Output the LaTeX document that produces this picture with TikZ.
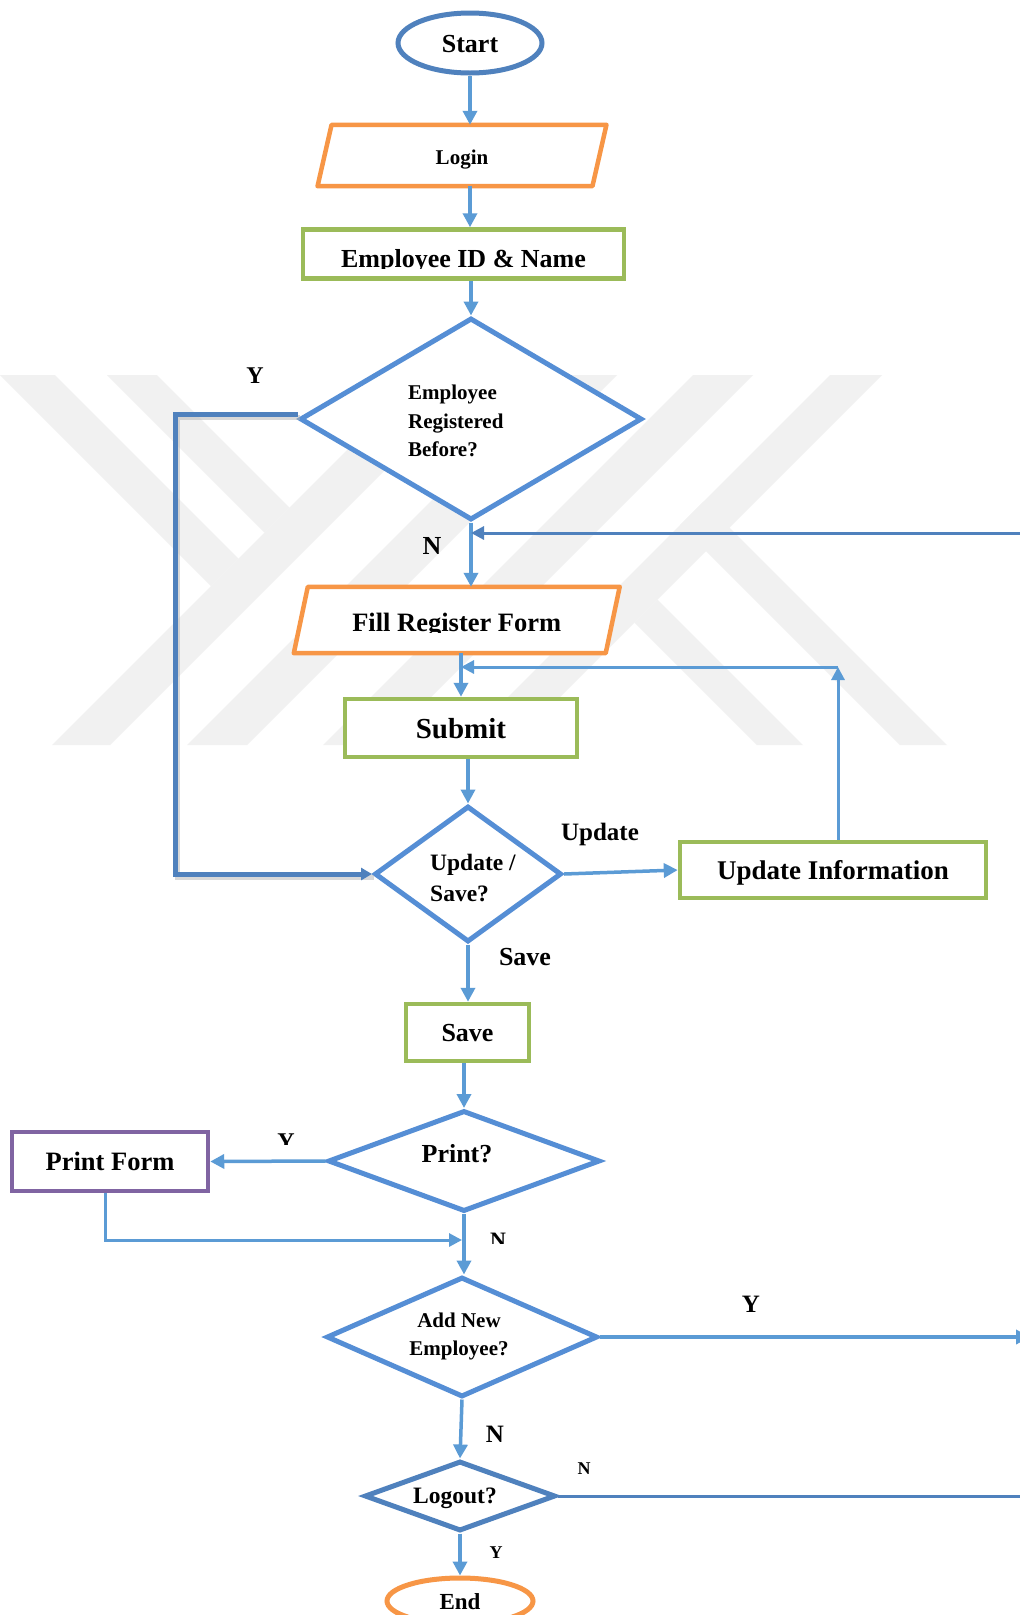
\documentclass[tikz,border=0pt]{standalone}
\usepackage{fontspec}
\setmainfont{Liberation Serif}
\usetikzlibrary{shapes.geometric,arrows.meta}

\definecolor{flowblue}{HTML}{5B9BD5}
\definecolor{decblue}{HTML}{558ED5}
\definecolor{deepblue}{HTML}{4F81BD}
\definecolor{boxorange}{HTML}{F79646}
\definecolor{boxgreen}{HTML}{9BBB59}
\definecolor{boxpurple}{HTML}{8064A2}
\definecolor{wmgray}{HTML}{F1F1F1}

\newcommand{\bsz}[1]{\fontsize{#1}{#1}\selectfont\bfseries}

\tikzset{
  shapebox/.style={rectangle, inner sep=0pt, fill=white, line width=4.5pt, text depth=0pt},
  greenbox/.style={shapebox, draw=boxgreen},
  purplebox/.style={shapebox, draw=boxpurple},
  ioframe/.style={rectangle, inner sep=0pt},
  ioline/.style={draw=boxorange, fill=white, line width=4.5pt, line join=round},
  decision/.style={diamond, inner sep=0pt, fill=white, draw=decblue, line width=5pt},
  terminal/.style={ellipse, inner sep=0pt, fill=white, line width=5pt, text depth=0pt},
  flow/.style={draw=flowblue, line width=3.5pt, -{Triangle[width=14pt,length=14pt]}},
  thinflow/.style={draw=deepblue, line width=3pt, -{Triangle[width=13pt,length=13pt]}},
  backflow/.style={draw=flowblue, line width=3pt, -{Triangle[width=13pt,length=13pt]}},
  tag/.style={inner sep=0pt, anchor=base},
}

\begin{document}
\begin{tikzpicture}[x=1pt,y=-1pt]
\fill[white] (0,0) rectangle (1020,1615);
\useasboundingbox (0,0) rectangle (1020,1615);

% faint striped emblem in the background
\begin{scope}
  \clip (0,375) rectangle (1020,745);
  \fill[wmgray] (422,375) -- (480,375) -- (110,745) -- (52,745) -- cycle;
  \fill[wmgray] (557,375) -- (617,375) -- (247,745) -- (187,745) -- cycle;
  \fill[wmgray] (693,375) -- (753,375) -- (383,745) -- (323,745) -- cycle;
  \fill[wmgray] (830,375) -- (882,375) -- (512,745) -- (460,745) -- cycle;
  \fill[wmgray] (0,375) -- (55,375) -- (238.5,558.5) -- (211,586) -- cycle;
  \fill[wmgray] (107,375) -- (157,375) -- (289.5,507.5) -- (264.5,532.5) -- cycle;
  \fill[wmgray] (634.5,622.5) -- (657.5,599.5) -- (803,745) -- (757,745) -- cycle;
  \fill[wmgray] (680,525) -- (703.5,501.5) -- (947,745) -- (900,745) -- cycle;
\end{scope}

% ---------- nodes ----------
\node[terminal, draw=deepblue, minimum width=144pt, minimum height=60pt, font=\bsz{26}, text height=18.2pt] (start) at (470,43) {Start};

\node[ioframe, minimum width=274.5pt, minimum height=61pt] (login) at (462,155.5) {};
\filldraw[ioline] ([xshift=-7pt]login.south west) -- ([xshift=-7pt]login.south east)
  -- ([xshift=7pt]login.north east) -- ([xshift=7pt]login.north west) -- cycle;
\node[tag, font=\bsz{21}] (logintxt) at (462,164) {Login};

\node[greenbox, minimum width=321pt, minimum height=49pt] (emp) at (463.5,254) {};
\begin{scope}
  \clip (306,232) rectangle (621,268);
  \node[tag, font=\bsz{26}] (emptxt) at (463.5,267) {Employee ID \& Name};
\end{scope}

\node[decision, minimum width=342pt, minimum height=202pt] (reg) at (471,419) {};
\node[font=\fontsize{21}{28.5}\selectfont\bfseries, align=left, anchor=west, inner sep=0pt] (regtxt) at (408,421) {Employee\\Registered\\Before?};

\node[ioframe, minimum width=311.5pt, minimum height=66pt] (regform) at (456.75,620) {};
\filldraw[ioline] ([xshift=-7pt]regform.south west) -- ([xshift=-7pt]regform.south east)
  -- ([xshift=7pt]regform.north east) -- ([xshift=7pt]regform.north west) -- cycle;
\begin{scope}
  \clip (300,590) rectangle (612,632);
  \node[tag, font=\bsz{26.5}] (regformtxt) at (456.75,631) {Fill Register Form};
\end{scope}

\node[greenbox, minimum width=232pt, minimum height=58pt, font=\bsz{29}, text height=20.3pt] (submit) at (461,728) {Submit};

\node[decision, minimum width=187pt, minimum height=136pt] (choice) at (468,874) {};
\node[font=\fontsize{23.5}{32}\selectfont\bfseries, align=left, anchor=west, inner sep=0pt] (choicetxt) at (430,878) {Update /\\Save?};

\node[greenbox, minimum width=306pt, minimum height=56pt, font=\bsz{27}, text height=18.9pt] (updinfo) at (833,870) {Update Information};

\node[greenbox, minimum width=123pt, minimum height=57pt, font=\bsz{26}, text height=18.2pt] (savebox) at (467.5,1032.5) {Save};

\node[decision, minimum width=272pt, minimum height=101pt] (print) at (464,1161) {};
\node[tag, font=\bsz{26}] (printtxt) at (457,1162) {Print?};

\node[purplebox, minimum width=196pt, minimum height=59pt, font=\bsz{26.5}, text height=18.5pt] (pform) at (110,1161.5) {Print Form};

\node[decision, minimum width=271pt, minimum height=120pt] (addnew) at (462,1337) {};
\node[font=\fontsize{21}{28}\selectfont\bfseries, align=center, inner sep=0pt] (addtxt) at (459,1336) {Add New\\Employee?};

\node[decision, draw=deepblue, minimum width=191pt, minimum height=70pt] (logout) at (460,1496) {};
\node[tag, font=\bsz{23.5}] (logouttxt) at (455,1503) {Logout?};

\node[terminal, draw=boxorange, minimum width=146pt, minimum height=46pt, font=\bsz{23}, text height=16.1pt] (finish) at (460,1601) {End};

% ---------- connectors ----------
\draw[flow] (start.south) -- (start.south |- login.north);
\draw[flow] (login.south -| start.south) -- (start.south |- emp.north);
\draw[flow] (emp.south -| reg.north) -- (reg.north);

% "registered before" branch back to the decision
\coordinate (ycorner) at (175,874);
\draw[black!30, opacity=0.5, line width=5pt, transform canvas={shift={(2pt,-3pt)}}]
  ([yshift=5pt]reg.west) -| (ycorner) -- (choice.west);
\draw[deepblue, line width=5pt, -{Triangle[width=12pt,length=11pt]}]
  ([yshift=5pt]reg.west) -| (ycorner) -- (choice.west);

\draw[flow] (reg.south) -- (reg.south |- regform.north);
\coordinate (rightin) at (1025,533);
\draw[thinflow] (rightin) -- (reg.south |- rightin);

\draw[flow] (submit.north |- regform.south) -- (submit.north);
\coordinate (loopcorner) at (838,667);
\draw[backflow] (updinfo.north -| loopcorner) -- (loopcorner);
\draw[backflow] (loopcorner) -- (submit.north |- loopcorner);

\draw[flow] (submit.south -| choice.north) -- (choice.north);
\draw[flow] (choice.east) -- (updinfo.west);
\draw[flow] (choice.south) -- (choice.south |- savebox.north);
\draw[flow] (savebox.south -| print.north) -- (print.north);
\draw[flow] (print.west) -- (pform.east);
\coordinate (merge) at (462,1240);
\draw[backflow] ([xshift=-5pt]pform.south) |- (merge);
\draw[flow] (print.south) -- (print.south |- addnew.north);
\coordinate (rightout) at (1030,1337);
\draw[flow] (addnew.east) -- (rightout);
\draw[flow] (addnew.south) -- (logout.north);
\coordinate (logoutright) at (1025,1496);
\draw[deepblue, line width=3pt] (logout.east) -- (logoutright);
\draw[flow] (logout.south) -- (finish.north);

% ---------- branch labels ----------
\node[tag, font=\bsz{24}] (lblY1) at (255,383) {Y};
\node[tag, font=\bsz{26}] (lblN1) at (432,554) {N};
\node[tag, font=\bsz{25}] (lblUpd) at (600,840) {Update};
\node[tag, font=\bsz{26}] (lblSave) at (525,965) {Save};
\begin{scope}
  \clip (270,1125) rectangle (305,1144);
  \node[tag, font=\bsz{24}] (lblY2) at (286,1149) {Y};
\end{scope}
\begin{scope}
  \clip (485,1225) rectangle (512,1243);
  \node[tag, font=\bsz{22}] (lblN2) at (498,1247) {N};
\end{scope}
\node[tag, font=\bsz{25}] (lblY3) at (751,1312) {Y};
\node[tag, font=\bsz{25}] (lblN3) at (495,1442) {N};
\node[tag, font=\bsz{18}] (lblN4) at (584,1474) {N};
\node[tag, font=\bsz{18}] (lblY4) at (496,1558) {Y};
\end{tikzpicture}
\end{document}
